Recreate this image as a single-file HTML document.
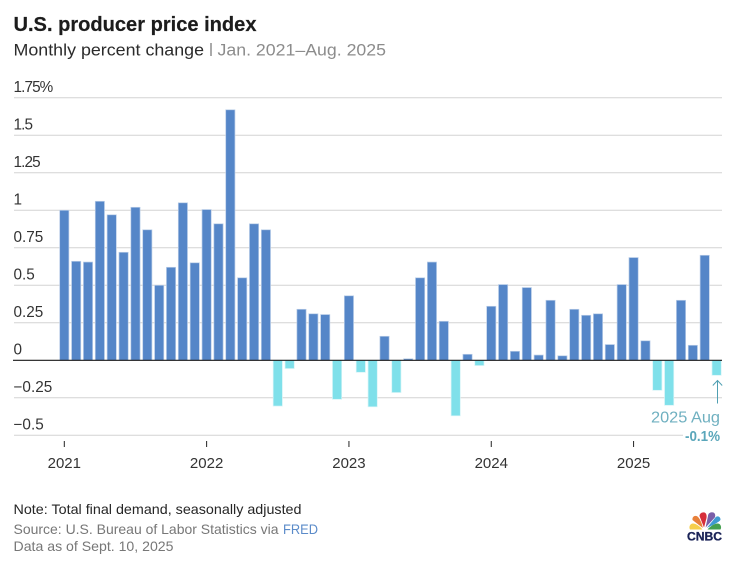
<!DOCTYPE html>
<html lang="en">
<head>
<meta charset="utf-8">
<title>U.S. producer price index</title>
<style>
html,body{margin:0;padding:0;background:#fff;}
body{width:735px;height:568px;overflow:hidden;}
svg{display:block;font-family:"Liberation Sans",sans-serif;}
</style>
</head>
<body>
<svg id="chart" width="735" height="568" viewBox="0 0 735 568" xmlns="http://www.w3.org/2000/svg">
  <text x="13.5" y="31" font-size="20.5" font-weight="700" fill="#1c1c1c" stroke="#1c1c1c" stroke-width="0.2" textLength="243" lengthAdjust="spacingAndGlyphs">U.S. producer price index</text>
  <text x="13.5" y="55.5" font-size="17" fill="#2b2b2b" textLength="190.5" lengthAdjust="spacingAndGlyphs">Monthly percent change</text>
  <rect x="210.5" y="43" width="1" height="13" fill="#555"/>
  <text x="217.5" y="55.5" font-size="17" fill="#8c8c8c" textLength="168.5" lengthAdjust="spacingAndGlyphs">Jan. 2021–Aug. 2025</text>
  <g id="grid"></g>
  <g id="ylabels"></g>
  <g id="bars"></g>
  <line x1="13" x2="722" y1="360.3" y2="360.3" stroke="#1a1a1a" stroke-width="1.2"/>
  <g id="xaxis"></g>
  <rect x="683" y="428" width="40" height="16" fill="#fff"/>
  <g>
    <path d="M717.5 403.5V380.5M712.8 385.5L717.5 380.5L722.2 385.5" fill="none" stroke="#4f9fb2" stroke-width="1"/>
    <text x="720" y="422.5" text-anchor="end" font-size="15.5" fill="#6fb0c0" textLength="69" lengthAdjust="spacingAndGlyphs">2025 Aug</text>
    <text x="720" y="441" text-anchor="end" font-size="14.5" font-weight="700" fill="#5aa6ba" textLength="35" lengthAdjust="spacingAndGlyphs">-0.1%</text>
  </g>
  <text x="13.5" y="514" font-size="14" fill="#262626" textLength="288" lengthAdjust="spacingAndGlyphs">Note: Total final demand, seasonally adjusted</text>
  <text x="13.5" y="534" font-size="14" fill="#777" textLength="265" lengthAdjust="spacingAndGlyphs">Source: U.S. Bureau of Labor Statistics via</text>
  <text x="283" y="534" font-size="14" fill="#5b8bc9" textLength="35" lengthAdjust="spacingAndGlyphs">FRED</text>
  <text x="13.5" y="551" font-size="14" fill="#777" textLength="160" lengthAdjust="spacingAndGlyphs">Data as of Sept. 10, 2025</text>
  <g>
    <g>
      <path d="M702.5 529.5L690 529.5C688.5 527 690 523.5 693 523.5C696 523.5 700 526.5 702.5 529.5Z" fill="#f6cf4b"/>
      <path d="M702.8 528L692.5 520C692 516.5 695 515 697.5 516.5C699.5 518 702 523 702.8 528Z" fill="#e8803a"/>
      <path d="M704 527.5L699.5 516C699.5 513.5 702 511.8 704.5 512.5C706.5 513.2 707 516 706.4 518.5Z" fill="#d62e3a"/>
      <path d="M705.6 527.5L708 516C708 513 711 511.5 713.5 512.5C715.5 513.5 715.5 516 714.8 517.5Z" fill="#7a5fa8"/>
      <path d="M706.8 528L715.8 517C718 515.5 720.5 517 720.5 519.5C720.5 521.5 712 525.5 706.8 528Z" fill="#3f9bd1"/>
      <path d="M707.5 529.5L720.5 529.5C721.8 527.5 720.8 523.8 718 523.5C714.5 523.3 710 526.5 707.5 529.5Z" fill="#45a04f"/>
    </g>
    <text x="687" y="540.5" font-size="11.5" font-weight="700" fill="#1a2357" stroke="#1a2357" stroke-width="0.3" textLength="35" lengthAdjust="spacingAndGlyphs">CNBC</text>
  </g>
</svg>
<script>
const monthlyChange = [
  1.00, 0.66, 0.655, 1.06, 0.97, 0.72, 1.02, 0.87, 0.50, 0.62, 1.05, 0.65,
  1.005, 0.91, 1.67, 0.55, 0.91, 0.87, -0.305, -0.055, 0.34, 0.31, 0.305, -0.26,
  0.43, -0.08, -0.31, 0.16, -0.215, 0.01, 0.55, 0.655, 0.26, -0.37, 0.04, -0.035,
  0.36, 0.505, 0.06, 0.485, 0.035, 0.40, 0.03, 0.34, 0.30, 0.31, 0.105, 0.505,
  0.685, 0.13, -0.20, -0.30, 0.40, 0.10, 0.70, -0.10
];
const yTicks = [1.75, 1.5, 1.25, 1, 0.75, 0.5, 0.25, 0, -0.25, -0.5];
const yTickLabels = ['1.75%', '1.5', '1.25', '1', '0.75', '0.5', '0.25', '0', '\u22120.25', '\u22120.5'];
const yearLabels = ['2021', '2022', '2023', '2024', '2025'];
const yearMonthIndex = [0, 12, 24, 36, 48];

const NS = 'http://www.w3.org/2000/svg';
const plot = {zeroY: 360.3, pxPerUnit: 150, firstX: 64.3, monthStep: 11.86, barWidth: 9.2};
function yScale(v) { return plot.zeroY - v * plot.pxPerUnit; }
function xScale(i) { return plot.firstX + i * plot.monthStep; }
function make(tag, attrs) {
  const el = document.createElementNS(NS, tag);
  for (const k in attrs) el.setAttribute(k, attrs[k]);
  return el;
}

const gridGroup = document.getElementById('grid');
const labelGroup = document.getElementById('ylabels');
yTicks.forEach(function (t, i) {
  if (t !== 0) {
    const line = make('line', {x1: 14, x2: 722, y1: yScale(t), y2: yScale(t), stroke: '#d4d4d4', 'stroke-width': 1});
    
    
    gridGroup.appendChild(line);
  }
  const label = make('text', {x: 13.5, y: yScale(t) - 5.7, 'font-size': 15.3, fill: '#333'});
  
  
  if (yTickLabels[i].charAt(0) === '1') label.setAttribute('letter-spacing', '-0.9');
  label.textContent = yTickLabels[i];
  labelGroup.appendChild(label);
});

const barGroup = document.getElementById('bars');
monthlyChange.forEach(function (v, i) {
  const y0 = yScale(Math.max(v, 0));
  const y1 = yScale(Math.min(v, 0));
  const positive = v >= 0;
  const bar = make('rect', {
    x: xScale(i) - plot.barWidth / 2,
    y: y0,
    width: plot.barWidth,
    height: y1 - y0,
    fill: positive ? '#5586c8' : '#7fe0ea',
    stroke: positive ? '#b9cde8' : '#d5f4f7',
    'stroke-width': 0.7
  });
  
  
  barGroup.appendChild(bar);
});

const xGroup = document.getElementById('xaxis');
yearLabels.forEach(function (year, i) {
  const x = xScale(yearMonthIndex[i]);
  const tick = make('line', {x1: x, x2: x, y1: 441, y2: 447, stroke: '#222', 'stroke-width': 1});
  
  
  xGroup.appendChild(tick);
  const label = make('text', {x: x, y: 468, 'text-anchor': 'middle', 'font-size': 15, fill: '#333'});
  
  
  label.textContent = year;
  xGroup.appendChild(label);
});
</script>
</body>
</html>
